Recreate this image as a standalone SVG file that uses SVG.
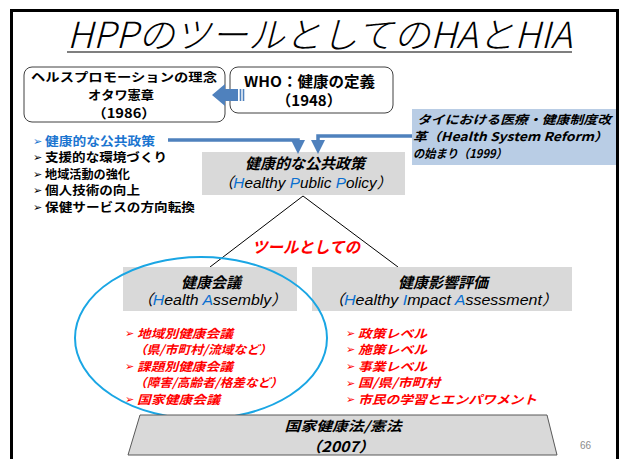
<svg xmlns="http://www.w3.org/2000/svg" width="621" height="459" viewBox="0 0 621 459">
<defs>
<style>
.jp{font-family:"Noto Sans CJK JP","Liberation Sans",sans-serif;font-weight:700;}
.lat{font-family:"Liberation Sans","Noto Sans CJK JP",sans-serif;}
.it{font-style:italic;}
.red{fill:#ff0000;}
.blu{fill:#0a6fd0;}
.gray{fill:#d9d9d9;}
.conn{stroke:#4f81bd;stroke-width:3.5;fill:none;}
.tree{stroke:#000;stroke-width:1;fill:none;}
.mk{font-family:"DejaVu Sans",sans-serif;font-weight:700;}
</style>
<marker id="ah" markerWidth="4" markerHeight="4" refX="2" refY="2" orient="auto" markerUnits="strokeWidth">
<path d="M0,0 L4,2 L0,4 Z" fill="#4f81bd"/>
</marker>
</defs>
<rect x="0" y="0" width="621" height="459" fill="#fff"/>
<rect x="11.5" y="10.5" width="606" height="460" fill="none" stroke="#000" stroke-width="3"/>

<g id="title">
<text x="67" y="48" font-size="36" font-family="Noto Sans CJK JP, sans-serif" font-weight="300" font-style="italic" textLength="505" lengthAdjust="spacingAndGlyphs">HPPのツールとしてのHAとHIA</text>
<line x1="67" y1="52" x2="572" y2="52" stroke="#000" stroke-width="1.2"/>
</g>

<g id="ottawa">
<rect x="24" y="67" width="201" height="55" rx="8" fill="#fff" stroke="#404040" stroke-width="1"/>
<text class="jp" x="31" y="81.5" font-size="12" textLength="186" lengthAdjust="spacingAndGlyphs">ヘルスプロモーションの理念</text>
<text class="jp" x="121" y="99.5" font-size="12.5" text-anchor="middle" textLength="66" lengthAdjust="spacingAndGlyphs">オタワ憲章</text>
<text class="jp" x="124" y="118" font-size="13" text-anchor="middle" textLength="64" lengthAdjust="spacingAndGlyphs">（1986）</text>
</g>

<g id="who">
<rect x="230" y="67" width="163" height="46" rx="8" fill="#fff" stroke="#404040" stroke-width="1"/>
<text class="jp" x="244" y="87" font-size="14.5" textLength="131" lengthAdjust="spacingAndGlyphs">WHO：健康の定義</text>
<text class="jp" x="309" y="106" font-size="15" text-anchor="middle">（1948）</text>
</g>

<g id="tai">
<rect x="412" y="109" width="204" height="56" fill="#b9cde5"/>
<text class="jp it" x="417" y="124" font-size="12" textLength="194" lengthAdjust="spacingAndGlyphs">タイにおける医療・健康制度改</text>
<text class="jp it" x="413" y="141" font-size="12" textLength="195" lengthAdjust="spacingAndGlyphs">革（Health System Reform）</text>
<text class="jp it" x="413" y="158" font-size="12" textLength="94" lengthAdjust="spacingAndGlyphs">の始まり（1999）</text>
</g>

<g id="ottawa-list">
<text class="mk" x="33" y="145" font-size="11" fill="#1b75d0">➢</text>
<text class="jp" x="45" y="146" font-size="12" textLength="110" lengthAdjust="spacingAndGlyphs" fill="#1b75d0">健康的な公共政策</text>
<text class="mk" x="33" y="161" font-size="11">➢</text>
<text class="jp" x="45" y="162" font-size="12" textLength="122" lengthAdjust="spacingAndGlyphs">支援的な環境づくり</text>
<text class="mk" x="33" y="178" font-size="11">➢</text>
<text class="jp" x="45" y="179" font-size="12" textLength="85" lengthAdjust="spacingAndGlyphs">地域活動の強化</text>
<text class="mk" x="33" y="194" font-size="11">➢</text>
<text class="jp" x="45" y="195" font-size="12" textLength="95" lengthAdjust="spacingAndGlyphs">個人技術の向上</text>
<text class="mk" x="33" y="211" font-size="11">➢</text>
<text class="jp" x="45" y="212" font-size="12" textLength="150" lengthAdjust="spacingAndGlyphs">保健サービスの方向転換</text>
</g>

<g id="hpp">
<rect class="gray" x="202" y="152" width="203" height="43"/>
<text class="jp it" x="305" y="169" font-size="15" text-anchor="middle">健康的な公共政策</text>
<text class="lat it" x="305" y="188" font-size="15" text-anchor="middle" textLength="174" lengthAdjust="spacingAndGlyphs">（<tspan class="blu">H</tspan>ealthy <tspan class="blu">P</tspan>ublic <tspan class="blu">P</tspan>olicy）</text>
</g>

<g id="connectors">
<polyline class="conn" points="168,140 298,140 298,147" marker-end="url(#ah)"/>
<polyline class="conn" points="412,136 318,136 318,147" marker-end="url(#ah)"/>
<path d="M243.5,89 L243.5,101 M240.5,89 L240.5,101" stroke="#4f81bd" stroke-width="1.6"/>
<path d="M238,89 L225,89 L225,84 L212,95 L225,106 L225,101 L238,101 Z" fill="#4f81bd"/>
<polyline class="tree" points="210,267 303,196 398,267"/>
</g>

<g id="tool-label">
<text class="jp it red" x="252" y="253" font-size="16" textLength="108" lengthAdjust="spacingAndGlyphs">ツールとしての</text>
</g>

<g id="ha">
<rect class="gray" x="123" y="267" width="174" height="44"/>
<text class="jp it" x="211" y="288" font-size="15" text-anchor="middle">健康会議</text>
<text class="lat it" x="212" y="305" font-size="15" text-anchor="middle" textLength="150" lengthAdjust="spacingAndGlyphs">（<tspan class="blu">H</tspan>ealth <tspan class="blu">A</tspan>ssembly）</text>
</g>

<g id="hia">
<rect class="gray" x="312" y="267" width="260" height="44"/>
<text class="jp it" x="443" y="288" font-size="15" text-anchor="middle">健康影響評価</text>
<text class="lat it" x="443" y="305" font-size="15" text-anchor="middle" textLength="230" lengthAdjust="spacingAndGlyphs">（<tspan class="blu">H</tspan>ealthy <tspan class="blu">I</tspan>mpact <tspan class="blu">A</tspan>ssessment）</text>
</g>

<g id="ha-list">
<ellipse cx="201" cy="338" rx="126" ry="81" fill="none" stroke="#1aa6e4" stroke-width="2"/>
<text class="mk red" x="125" y="337" font-size="11">➢</text>
<text class="jp it red" x="137" y="338" font-size="12" textLength="96" lengthAdjust="spacingAndGlyphs">地域別健康会議</text>
<text class="jp it red" x="134" y="354" font-size="12" textLength="138" lengthAdjust="spacingAndGlyphs">（県/市町村/流域など）</text>
<text class="mk red" x="125" y="370" font-size="11">➢</text>
<text class="jp it red" x="137" y="371" font-size="12" textLength="96" lengthAdjust="spacingAndGlyphs">課題別健康会議</text>
<text class="jp it red" x="134" y="387" font-size="12" textLength="149" lengthAdjust="spacingAndGlyphs">（障害/高齢者/格差など）</text>
<text class="mk red" x="125" y="403" font-size="11">➢</text>
<text class="jp it red" x="137" y="404" font-size="12" textLength="83" lengthAdjust="spacingAndGlyphs">国家健康会議</text>
</g>

<g id="hia-list">
<text class="mk red" x="346" y="337" font-size="11">➢</text>
<text class="jp it red" x="358" y="338" font-size="12" textLength="69" lengthAdjust="spacingAndGlyphs">政策レベル</text>
<text class="mk red" x="346" y="353" font-size="11">➢</text>
<text class="jp it red" x="358" y="354" font-size="12" textLength="69" lengthAdjust="spacingAndGlyphs">施策レベル</text>
<text class="mk red" x="346" y="370" font-size="11">➢</text>
<text class="jp it red" x="358" y="371" font-size="12" textLength="69" lengthAdjust="spacingAndGlyphs">事業レベル</text>
<text class="mk red" x="346" y="387" font-size="11">➢</text>
<text class="jp it red" x="358" y="387" font-size="12" textLength="82" lengthAdjust="spacingAndGlyphs">国/県/市町村</text>
<text class="mk red" x="346" y="403" font-size="11">➢</text>
<text class="jp it red" x="358" y="404" font-size="12" textLength="179" lengthAdjust="spacingAndGlyphs">市民の学習とエンパワメント</text>
</g>

<g id="law">
<polygon points="140,415 547,415 557,455 128,455" fill="#d9d9d9" stroke="#595959" stroke-width="1"/>
<text class="jp it" x="343" y="431" font-size="13.5" text-anchor="middle" textLength="117" lengthAdjust="spacingAndGlyphs">国家健康法/憲法</text>
<text class="jp it" x="340" y="452" font-size="14.5" text-anchor="middle" textLength="69" lengthAdjust="spacingAndGlyphs">（2007）</text>
</g>

<text x="580" y="449" font-size="10" fill="#8c8c8c" font-family="Liberation Sans, sans-serif">66</text>
</svg>
